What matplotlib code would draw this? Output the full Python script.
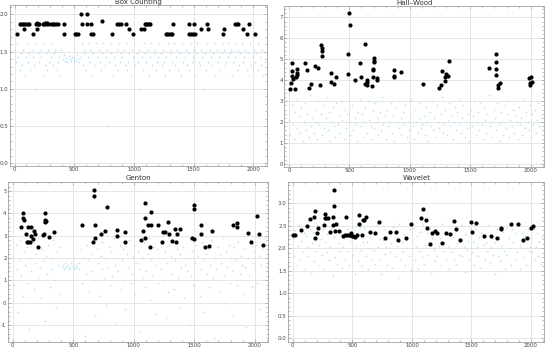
import matplotlib
matplotlib.use("Agg")
import matplotlib.pyplot as plt
from matplotlib.ticker import MultipleLocator, FormatStrFormatter

# shared image index for the light-blue cloud (sampled)
cloud_x = [3, 12, 22, 31, 45, 52, 63, 71, 84, 93,
           101, 114, 122, 131, 143, 152, 164, 173, 181, 195,
           204, 212, 223, 235, 243, 251, 262, 274, 283, 291,
           305, 313, 322, 334, 342, 353, 361, 375, 384, 392,
           403, 414, 421, 433, 442, 455, 463, 472, 481, 494,
           502, 511, 524, 532, 543, 551, 563, 572, 584, 593,
           601, 615, 623, 632, 644, 652, 661, 675, 683, 692,
           704, 712, 725, 733, 741, 754, 762, 773, 781, 795,
           804, 812, 823, 834, 842, 855, 863, 871, 884, 893,
           902, 914, 923, 931, 945, 953, 962, 974, 982, 993,
           1004, 1012, 1023, 1035, 1043, 1051, 1064, 1072, 1083, 1094,
           1102, 1114, 1123, 1132, 1143, 1151, 1164, 1173, 1185, 1192,
           1203, 1212, 1224, 1233, 1241, 1254, 1263, 1272, 1285, 1293,
           1304, 1312, 1323, 1334, 1342, 1355, 1363, 1371, 1384, 1393,
           1405, 1413, 1422, 1434, 1442, 1453, 1461, 1474, 1483, 1491,
           1504, 1512, 1523, 1532, 1544, 1552, 1563, 1571, 1582, 1595,
           1603, 1611, 1624, 1633, 1642, 1654, 1662, 1673, 1681, 1694,
           1702, 1713, 1722, 1734, 1743, 1751, 1763, 1772, 1784, 1792,
           1803, 1814, 1822, 1831, 1845, 1853, 1862, 1874, 1883, 1891,
           1904, 1912, 1923, 1931, 1944, 1953, 1962, 1975, 1983, 1994,
           2004, 2013, 2022, 2035, 2043, 2054, 2062, 2071, 2083, 2094]

bc_cloud = [1.52, 1.36, 1.61, 1.43, 1.25, 1.48, 1.32, 1.52, 1.19, 1.43,
            1.61, 1.36, 1.48, 1.25, 1.52, 1.43, 1.32, 1.61, 1.0, 1.48,
            1.36, 1.52, 1.43, 1.19, 1.61, 1.32, 1.48, 1.25, 1.52, 1.36,
            1.43, 1.61, 1.32, 1.48, 1.52, 1.25, 1.36, 1.43, 1.19, 1.52,
            1.40, 1.45, 1.38, 1.42, 1.36, 1.44, 1.40, 1.37, 1.43, 1.39,
            1.41, 1.38, 1.45, 1.40, 1.36, 1.43, 1.61, 1.32, 1.48, 1.52,
            1.25, 1.43, 1.61, 1.36, 1.52, 1.19, 1.48, 1.32, 1.61, 1.43,
            1.52, 1.36, 1.25, 1.48, 1.61, 1.32, 1.43, 1.52, 0.5, 1.36,
            1.61, 1.48, 1.19, 1.43, 1.32, 1.52, 1.25, 1.61, 1.36, 1.48,
            1.43, 1.52, 1.32, 1.61, 1.25, 1.36, 1.48, 1.19, 1.52, 1.43,
            1.61, 1.32, 1.48, 1.36, 1.52, 1.0, 1.43, 1.25, 1.61, 1.48,
            1.36, 1.52, 1.19, 1.43, 1.61, 1.32, 1.48, 1.52, 1.25, 1.36,
            1.43, 1.61, 1.48, 1.32, 1.52, 1.36, 1.19, 1.43, 1.61, 1.25,
            1.52, 1.48, 1.36, 1.61, 1.32, 1.43, 1.52, 1.25, 1.48, 1.19,
            1.61, 1.36, 1.43, 1.52, 1.32, 1.48, 1.25, 1.61, 1.36, 1.43,
            1.52, 1.19, 1.48, 1.61, 1.36, 1.32, 1.52, 1.43, 1.0, 1.48,
            1.25, 1.61, 1.36, 1.52, 1.43, 1.32, 1.48, 1.61, 1.19, 1.52,
            1.36, 1.43, 1.25, 1.48, 1.61, 1.52, 1.32, 1.36, 1.43, 1.61,
            1.48, 1.52, 1.19, 1.36, 1.43, 1.61, 1.25, 1.52, 1.32, 1.48,
            1.61, 1.36, 1.43, 1.52, 1.25, 1.48, 1.19, 1.61, 1.32, 1.43,
            1.52, 1.36, 1.48, 1.61, 1.25, 1.43, 1.32, 1.52, 1.19, 1.36]

hw_cloud = [2.1, 1.4, 2.8, 1.9, 1.2, 2.5, 3.1, 1.7, 2.3, 1.5,
            2.7, 1.1, 2.0, 2.9, 1.6, 2.4, 1.3, 3.3, 1.8, 2.2,
            1.5, 2.6, 2.0, 1.2, 3.0, 1.9, 2.4, 1.4, 2.8, 1.7,
            2.2, 3.2, 1.6, 2.5, 1.1, 2.0, 2.7, 1.8, 1.3, 2.9,
            1.9, 2.3, 1.5, 3.0, 2.1, 1.2, 2.6, 1.7, 2.4, 3.4,
            1.4, 2.0, 2.8, 1.6, 2.2, 1.9, 1.1, 2.5, 3.1, 1.8,
            2.4, 1.3, 2.0, 2.7, 1.5, 3.0, 2.1, 1.8, 1.2, 2.6,
            1.7, 2.9, 2.2, 1.4, 2.0, 2.5, 1.6, 3.2, 1.9, 2.3,
            1.2, 2.6, 1.8, 2.0, 2.9, 1.5, 2.3, 1.1, 2.7, 2.0,
            3.0, 1.7, 2.2, 1.4, 2.5, 1.9, 2.8, 1.3, 2.0, 1.6,
            2.4, 3.1, 1.8, 1.2, 2.6, 2.0, 1.5, 2.9, 2.2, 1.7,
            1.9, 2.3, 1.4, 2.7, 2.0, 1.1, 2.5, 1.8, 3.0, 1.6,
            2.2, 1.3, 2.8, 2.0, 1.7, 2.4, 3.2, 1.5, 1.9, 2.6,
            1.4, 2.1, 2.9, 1.8, 2.3, 1.2, 2.0, 2.7, 1.6, 2.5,
            3.1, 1.9, 1.5, 2.2, 2.8, 1.3, 2.0, 1.7, 2.4, 1.1,
            2.6, 1.8, 2.3, 3.0, 1.4, 2.0, 2.5, 1.6, 2.9, 1.9,
            1.2, 2.7, 2.1, 1.5, 2.4, 3.3, 1.8, 2.0, 1.3, 2.6,
            2.2, 1.6, 2.9, 1.9, 1.1, 2.5, 2.0, 1.4, 2.8, 1.7,
            2.4, 3.0, 1.3, 2.1, 1.8, 2.6, 1.5, 2.3, 2.0, 1.2,
            2.7, 1.9, 2.2, 1.4, 3.1, 1.7, 2.5, 2.0, 1.6, 2.8,
            1.3, 2.4, 1.9, 2.6, 1.5, 2.1, 2.9, 1.8, 2.2, 1.4]

gt_cloud = [2.1, 0.8, 2.6, 1.5, -0.4, 1.9, 2.8, 1.2, 0.3, 2.3,
            1.7, 2.5, 0.9, -1.2, 2.0, 1.4, 2.7, 0.6, 1.8, 2.2,
            1.1, 2.9, 1.6, 0.2, 2.4, 1.9, -0.8, 2.1, 1.3, 2.6,
            0.7, 2.0, 1.5, 2.8, 1.0, -0.2, 2.3, 1.7, 2.5, 0.4,
            1.6, 1.7, 1.5, 1.8, 1.6, 1.7, 1.5, 1.6, 1.8, 1.7,
            1.6, 1.5, 1.7, 1.6, 1.8, 1.5, 2.4, 0.9, 2.0, -1.5,
            1.3, 2.6, 1.9, 0.5, 2.2, 1.4, 2.8, 1.0, -0.6, 2.4,
            1.8, 0.3, 2.1, 1.5, 2.7, 1.1, 2.0, -0.1, 1.6, 2.5,
            0.8, 2.3, 1.2, 2.9, 1.7, -0.9, 2.0, 1.4, 2.6, 0.6,
            1.9, 2.4, 1.0, -0.3, 2.2, 1.6, 2.8, 0.9, 1.3, 2.1,
            2.6, 0.4, 1.8, 2.3, -1.3, 1.5, 2.0, 1.1, 2.7, 0.7,
            1.4, 2.2, 2.9, 0.1, 1.9, 1.2, 2.5, -0.5, 1.7, 2.4,
            0.9, 2.0, 1.5, 2.7, 1.0, 2.3, -0.7, 1.8, 0.5, 2.6,
            2.1, 1.3, 2.8, 0.6, 1.9, 2.4, 1.1, -0.2, 2.2, 1.6,
            2.5, 0.2, 1.7, 2.0, 1.4, 2.9, -1.0, 1.2, 2.3, 0.8,
            1.8, 2.6, 1.0, 2.1, 0.3, 1.5, 2.7, 1.9, -0.4, 2.2,
            1.3, 2.4, 0.7, 1.7, 2.8, 1.1, -1.6, 2.0, 1.5, 2.5,
            0.5, 2.2, 1.8, 2.9, 1.2, 0.0, 2.3, 1.6, 2.6, 0.9,
            2.0, 1.4, -0.6, 2.5, 1.9, 0.8, 2.7, 1.3, 2.1, 1.7,
            0.4, 2.4, 1.6, -1.1, 2.0, 1.2, 2.8, 0.7, 1.8, 2.3,
            1.5, 2.6, 0.9, 2.1, -0.3, 1.7, 2.4, 1.0, 2.9, 1.4]

wv_cloud = [2.23, 1.84, 2.41, 1.62, 2.05, 2.52, 1.73, 2.16, 1.91, 2.34,
            1.54, 2.27, 2.02, 1.83, 2.44, 1.46, 2.12, 2.36, 1.71, 1.95,
            2.51, 1.63, 2.07, 2.21, 1.86, 2.43, 1.55, 2.14, 1.92, 2.31,
            1.74, 2.03, 2.46, 1.38, 2.25, 1.81, 2.53, 1.66, 2.11, 1.94,
            2.32, 1.57, 2.04, 2.22, 1.76, 2.42, 1.93, 1.64, 2.17, 2.49,
            1.85, 2.24, 1.44, 2.06, 2.33, 1.72, 2.48, 1.97, 1.61, 2.13,
            2.45, 1.82, 2.15, 1.53, 2.26, 2.01, 1.75, 2.35, 1.96, 1.65,
            2.52, 2.04, 1.77, 2.21, 1.43, 2.18, 2.44, 1.87, 2.02, 1.63,
            2.37, 1.92, 2.12, 1.56, 2.47, 1.83, 2.26, 2.06, 1.35, 2.54,
            1.73, 2.14, 1.95, 2.32, 1.62, 2.24, 2.01, 1.84, 2.43, 1.52,
            2.16, 2.45, 1.74, 2.03, 2.27, 1.55, 2.36, 1.93, 1.81, 2.51,
            1.66, 2.07, 2.34, 1.86, 2.13, 2.42, 1.45, 2.23, 1.97, 1.72,
            2.41, 1.83, 2.05, 2.22, 1.64, 2.53, 1.94, 2.15, 1.76, 2.33,
            2.02, 1.54, 2.37, 1.91, 2.25, 1.73, 2.46, 1.65, 2.11, 1.85,
            2.24, 2.52, 1.82, 2.04, 1.47, 2.31, 1.96, 2.17, 1.75, 2.43,
            1.92, 2.14, 1.63, 2.44, 2.03, 1.84, 2.26, 1.56, 2.35, 2.07,
            2.32, 1.74, 2.12, 1.93, 2.51, 1.67, 2.02, 2.23, 1.86, 1.42,
            2.15, 2.42, 1.83, 2.21, 1.72, 2.06, 2.36, 1.95, 1.53, 2.45,
            1.86, 2.24, 2.01, 1.64, 2.43, 2.13, 1.77, 2.34, 1.92, 2.52,
            2.05, 1.55, 2.33, 2.16, 1.81, 2.27, 1.62, 2.44, 1.94, 2.03,
            2.22, 1.91, 2.42, 1.73, 2.04, 2.35, 1.84, 2.14, 1.66, 2.25]

# black outlier points
bc_x = [22, 158, 411, 503, 517, 531, 639, 661, 814, 994,
        1267, 1281, 1294, 1308, 1322, 1464, 1481, 1494, 1511, 1742, 1947, 2017,
        42, 56, 69, 83, 97, 111, 125, 180, 194, 208, 236, 250, 264, 278,
        306, 320, 333, 347, 361, 411, 564, 606, 644, 861, 878, 894, 933,
        1089, 1100, 1111, 1122, 1133, 1331, 1464, 1500, 1608, 1850, 1861, 1872, 1967,
        83, 186, 961, 1061, 1081, 1564, 1622, 1758, 1917,
        556, 606, 733, 186, 258, 272]
bc_y = [1.74, 1.74, 1.74, 1.74, 1.74, 1.74, 1.74, 1.74, 1.74, 1.74,
        1.74, 1.74, 1.74, 1.74, 1.74, 1.74, 1.74, 1.74, 1.74, 1.74, 1.74, 1.74,
        1.87, 1.87, 1.87, 1.87, 1.87, 1.87, 1.87, 1.87, 1.87, 1.87, 1.87, 1.87, 1.87, 1.87,
        1.87, 1.87, 1.87, 1.87, 1.87, 1.87, 1.87, 1.87, 1.87, 1.87, 1.87, 1.87, 1.87,
        1.87, 1.87, 1.87, 1.87, 1.87, 1.87, 1.87, 1.87, 1.87, 1.87, 1.87, 1.87, 1.87,
        1.80, 1.80, 1.80, 1.80, 1.80, 1.80, 1.80, 1.80, 1.80,
        2.0, 2.0, 1.91, 1.89, 1.89, 1.89]

hw_x = [11, 19, 22, 25, 28, 33, 47, 61, 63, 66, 69, 132, 146, 168, 184,
        220, 242, 261, 267, 270, 272, 275, 349, 352, 369, 393,
        492, 492, 498, 506, 547, 591, 594, 630, 627, 644, 646, 649,
        690, 693, 696, 699, 702, 704, 704, 732, 732, 867, 869, 869, 930,
        1111, 1241, 1260, 1263, 1287, 1293, 1296, 1318, 1323,
        1653, 1709, 1711, 1714, 1709, 1728, 1733, 1747,
        1983, 1992, 1997, 2003, 2014]
hw_y = [3.56, 3.85, 4.80, 4.45, 4.20, 4.06, 3.56, 4.14, 4.52, 4.36, 4.25, 4.80, 4.50, 3.61, 3.82,
        4.68, 4.57, 3.75, 5.70, 5.55, 5.41, 5.14, 4.36, 3.91, 3.82, 4.15,
        5.23, 4.30, 7.19, 6.62, 3.99, 4.80, 4.14, 5.73, 3.80, 3.75, 4.01, 3.91,
        3.74, 4.17, 4.49, 4.55, 5.06, 4.93, 4.87, 4.12, 3.99, 4.47, 4.20, 4.14, 4.41,
        3.83, 3.61, 3.75, 4.44, 3.95, 4.17, 4.30, 4.22, 4.93,
        4.60, 5.27, 4.88, 4.55, 4.23, 3.63, 3.79, 3.88,
        4.09, 3.85, 3.79, 4.14, 3.91]

gt_x = [67, 86, 86, 89, 108, 117, 122, 128, 142, 147, 150, 164, 172, 183, 211,
        250, 258, 264, 267, 269, 272, 297, 342, 569, 664, 672, 672, 683, 680,
        725, 764, 778, 861, 861, 925, 928, 1061, 1078, 1089, 1092, 1094,
        1119, 1131, 1139, 1142, 1197, 1236, 1244, 1261, 1283, 1292, 1319,
        1339, 1350, 1356, 1381, 1481, 1500, 1494, 1494, 1553, 1553, 1586,
        1625, 1647, 1817, 1856, 1856, 1944, 1969, 2022, 2039, 2072]
gt_y = [3.40, 4.04, 3.79, 3.70, 3.06, 2.73, 3.37, 2.73, 2.73, 3.37, 3.00, 2.85, 3.21, 3.06, 2.48,
        3.03, 3.06, 3.60, 3.70, 4.04, 3.67, 2.93, 3.15, 3.48, 2.73, 5.04, 4.79, 3.46, 2.88,
        3.06, 3.21, 4.27, 3.25, 2.99, 3.15, 2.73, 2.79, 3.22, 2.88, 4.48, 3.79,
        3.48, 2.48, 3.48, 4.06, 3.48, 2.70, 3.15, 3.15, 3.63, 3.10, 2.78,
        3.28, 2.70, 3.06, 3.28, 2.90, 2.84, 4.36, 4.19, 3.48, 3.06, 2.48,
        2.55, 3.22, 3.48, 3.58, 3.37, 3.12, 2.70, 3.90, 3.06, 2.58]

wv_x = [0, 14, 70, 120, 143, 179, 185, 190, 199, 215, 263, 268, 271, 280, 294,
        308, 336, 341, 344, 344, 358, 366, 386, 420, 442, 447, 456, 470, 484,
        492, 498, 503, 520, 542, 559, 559, 585, 590, 601, 618, 649, 691, 727,
        772, 814, 864, 881, 948, 993, 1077, 1094, 1122, 1130, 1150, 1172, 1191,
        1208, 1256, 1287, 1317, 1351, 1373, 1404, 1496, 1508, 1535, 1603, 1664,
        1712, 1748, 1751, 1829, 1888, 1930, 1963, 1997, 2014]
wv_y = [2.29, 2.29, 2.41, 2.50, 2.66, 2.70, 2.82, 2.24, 2.34, 2.46, 2.51, 2.68, 2.76, 2.68, 2.68,
        2.36, 2.51, 2.69, 2.95, 3.30, 2.39, 2.54, 2.39, 2.28, 2.29, 2.70, 2.29, 2.29, 2.29,
        2.33, 2.28, 2.27, 2.26, 2.29, 2.74, 2.53, 2.29, 2.64, 2.62, 2.70, 2.36, 2.34, 2.58,
        2.24, 2.36, 2.37, 2.19, 2.23, 2.54, 2.68, 2.87, 2.64, 2.45, 2.10, 2.35, 2.39,
        2.33, 2.12, 2.34, 2.31, 2.60, 2.43, 2.19, 2.59, 2.36, 2.56, 2.27, 2.28,
        2.24, 2.46, 2.43, 2.53, 2.55, 2.19, 2.22, 2.46, 2.49]

titles = ["Box Counting", "Hall\u2013Wood", "Genton", "Wavelet"]

fig = plt.figure(figsize=(5.5, 3.5), dpi=100)

# [left, bottom, width, height] in figure fractions
boxes = [[0.0182, 0.5266, 0.4667, 0.4590],
         [0.5169, 0.5237, 0.4727, 0.4591],
         [0.0150, 0.0237, 0.4728, 0.4570],
         [0.5242, 0.0237, 0.4654, 0.4570]]
ylims = [(-0.03, 2.125), (-0.13, 7.54), (-1.75, 5.42), (-0.075, 3.48)]
ymaj = [0.5, 1, 1, 0.5]
ymin = [0.1, 0.2, 0.2, 0.1]
yfmt = ["%.1f", "%d", "%d", "%.1f"]
clouds = [bc_cloud, hw_cloud, gt_cloud, wv_cloud]
blacks = [(bc_x, bc_y), (hw_x, hw_y), (gt_x, gt_y), (wv_x, wv_y)]

plt.rcParams['axes.unicode_minus'] = False

for i in range(4):
    ax = fig.add_axes(boxes[i])
    ax.scatter(cloud_x, clouds[i], s=1.6, color='#bfe2f4', linewidths=0, zorder=2)
    bx, by = blacks[i]
    ax.scatter(bx, by, s=9, color='black', linewidths=0, zorder=3)
    ax.set_xlim(-38, 2112)
    ax.set_ylim(*ylims[i])
    ax.xaxis.set_major_locator(MultipleLocator(500))
    ax.xaxis.set_minor_locator(MultipleLocator(100))
    ax.yaxis.set_major_locator(MultipleLocator(ymaj[i]))
    ax.yaxis.set_minor_locator(MultipleLocator(ymin[i]))
    ax.yaxis.set_major_formatter(FormatStrFormatter(yfmt[i]))
    ax.grid(True, which='major', color='#dcdcdc', lw=0.5, zorder=0)
    ax.set_axisbelow(True)
    for sp in ax.spines.values():
        sp.set_color('#a0a0a0')
        sp.set_linewidth(0.6)
    ax.tick_params(which='both', direction='in', color='#a0a0a0', width=0.5,
                   top=True, right=True, labelsize=3.9, labelcolor='#444444', pad=1.2)
    ax.tick_params(which='major', length=2.5)
    ax.tick_params(which='minor', length=1.3)
    ax.set_title(titles[i], fontsize=5, color='#333333', pad=1)

fig.savefig("out.png", dpi=100)
